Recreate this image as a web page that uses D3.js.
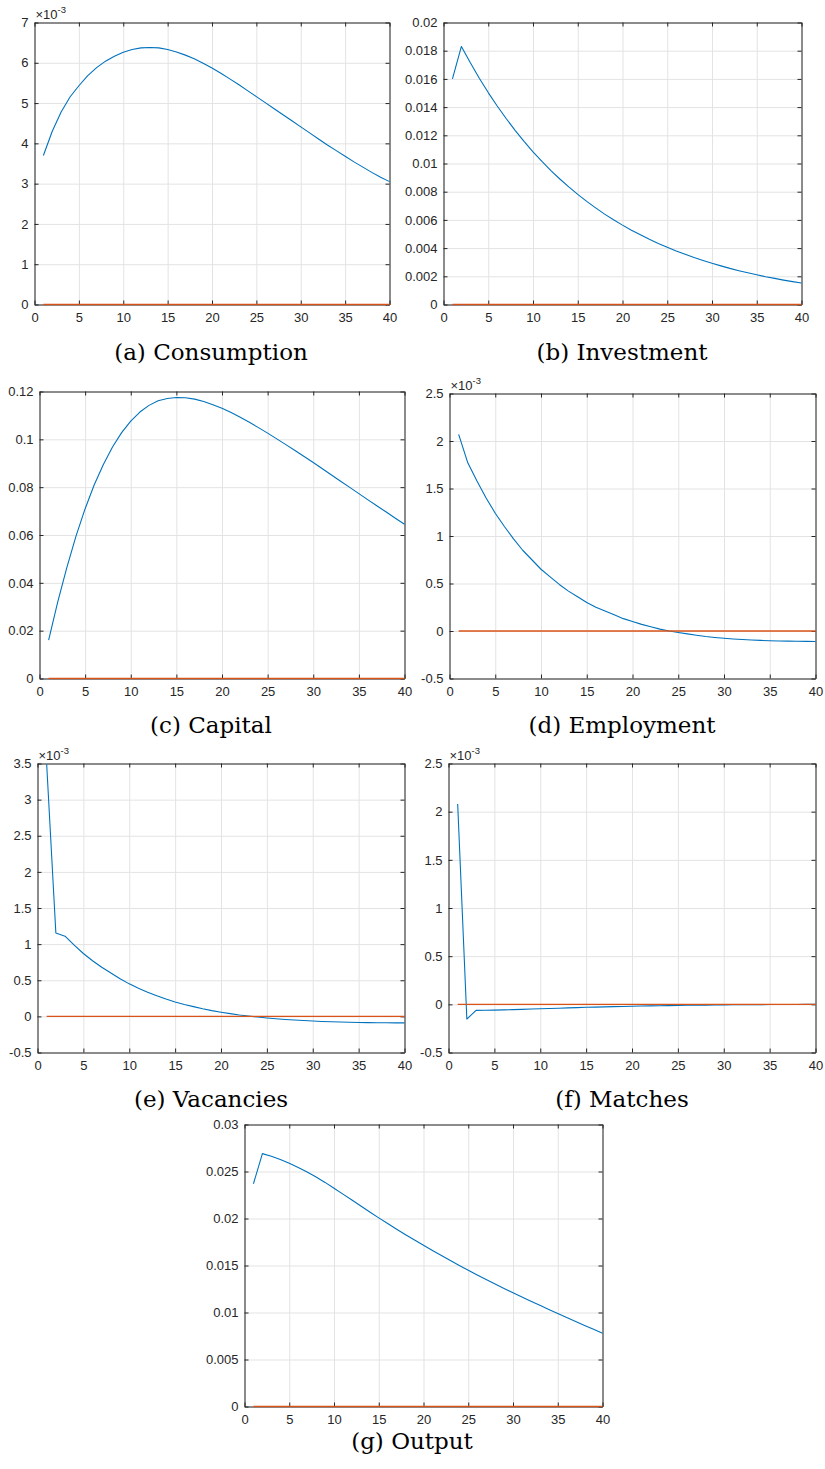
<!DOCTYPE html>
<html>
<head>
<meta charset="utf-8">
<script src="https://cdn.jsdelivr.net/npm/d3@7"></script>
<style>
  body { margin: 0; background: #fff; }
  svg { display: block; }
</style>
</head>
<body>
<svg id="fig" width="825" height="1469"></svg>
<script>
// Impulse responses, quarters 1..40
const periods = [1,2,3,4,5,6,7,8,9,10,11,12,13,14,15,16,17,18,19,20,
                 21,22,23,24,25,26,27,28,29,30,31,32,33,34,35,36,37,38,39,40];

// Steady-state reference (zero deviation)
const steadyState = [0,0,0,0,0,0,0,0,0,0,0,0,0,0,0,0,0,0,0,0,
                     0,0,0,0,0,0,0,0,0,0,0,0,0,0,0,0,0,0,0,0];

// Consumption, in units of 1e-3
const consumption = [3.70,4.30,4.78,5.15,5.43,5.68,5.88,6.04,6.16,6.26,
                     6.33,6.37,6.38,6.37,6.33,6.27,6.19,6.10,5.99,5.87,
                     5.74,5.60,5.46,5.31,5.16,5.01,4.86,4.71,4.56,4.41,
                     4.26,4.11,3.96,3.82,3.68,3.54,3.41,3.28,3.16,3.05];

const investment = [0.01600,0.01830,0.01714,0.01605,0.01503,0.01408,0.01319,0.01235,0.01157,0.01083,
                    0.01015,0.00950,0.00890,0.00834,0.00781,0.00731,0.00685,0.00641,0.00601,0.00563,
                    0.00527,0.00494,0.00462,0.00433,0.00406,0.00380,0.00356,0.00333,0.00312,0.00292,
                    0.00274,0.00256,0.00240,0.00225,0.00211,0.00197,0.00185,0.00173,0.00162,0.00152];

const capital = [0.0160,0.0320,0.0465,0.0595,0.0710,0.0810,0.0895,0.0968,0.1028,0.1076,
                 0.1114,0.1142,0.1161,0.1171,0.1175,0.1174,0.1168,0.1158,0.1145,0.1130,
                 0.1112,0.1092,0.1071,0.1049,0.1026,0.1002,0.0978,0.0953,0.0928,0.0903,
                 0.0877,0.0851,0.0825,0.0799,0.0773,0.0747,0.0721,0.0696,0.0670,0.0645];

// Employment, in units of 1e-3
const employment = [2.07,1.77,1.58,1.40,1.24,1.10,0.97,0.85,0.75,0.65,
                    0.57,0.49,0.42,0.36,0.30,0.25,0.21,0.17,0.13,0.10,
                    0.07,0.045,0.02,0.00,-0.015,-0.03,-0.045,-0.058,-0.068,-0.077,
                    -0.084,-0.090,-0.095,-0.099,-0.102,-0.105,-0.107,-0.108,-0.109,-0.110];

// Vacancies, in units of 1e-3
const vacancies = [3.49,1.155,1.11,0.985,0.87,0.77,0.68,0.60,0.52,0.45,
                   0.39,0.335,0.285,0.24,0.20,0.165,0.135,0.105,0.08,0.058,
                   0.038,0.02,0.005,-0.009,-0.022,-0.033,-0.043,-0.051,-0.058,-0.064,
                   -0.070,-0.074,-0.078,-0.081,-0.084,-0.086,-0.088,-0.089,-0.090,-0.090];

// Matches, in units of 1e-3
const matches = [2.08,-0.153,-0.063,-0.062,-0.060,-0.058,-0.055,-0.052,-0.049,-0.046,
                 -0.043,-0.040,-0.037,-0.034,-0.031,-0.029,-0.026,-0.024,-0.022,-0.020,
                 -0.018,-0.016,-0.014,-0.013,-0.011,-0.010,-0.009,-0.008,-0.007,-0.006,
                 -0.005,-0.004,-0.0035,-0.003,-0.0025,-0.002,-0.0015,-0.001,-0.0008,-0.0005];

const output = [0.02370,0.02690,0.02662,0.02628,0.02588,0.02543,0.02494,0.02441,0.02384,0.02322,
                0.02259,0.02196,0.02133,0.02070,0.02007,0.01946,0.01886,0.01828,0.01771,0.01715,
                0.01660,0.01606,0.01553,0.01501,0.01450,0.01400,0.01351,0.01303,0.01256,0.01210,
                0.01165,0.01120,0.01076,0.01032,0.00989,0.00946,0.00904,0.00862,0.00821,0.00780];

// Axis ticks
const xTicks = [0,5,10,15,20,25,30,35,40];
const consumptionTicks = [0,1,2,3,4,5,6,7];
const investmentTicks = [0,0.002,0.004,0.006,0.008,0.01,0.012,0.014,0.016,0.018,0.02];
const capitalTicks = [0,0.02,0.04,0.06,0.08,0.1,0.12];
const employmentTicks = [-0.5,0,0.5,1,1.5,2,2.5];
const vacanciesTicks = [-0.5,0,0.5,1,1.5,2,2.5,3,3.5];
const matchesTicks = [-0.5,0,0.5,1,1.5,2,2.5];
const outputTicks = [0,0.005,0.01,0.015,0.02,0.025,0.03];

const captions = ["(a) Consumption","(b) Investment","(c) Capital","(d) Employment",
                  "(e) Vacancies","(f) Matches","(g) Output"];

// Layout of each subfigure: axes box [left, top, right, bottom] and caption anchor
const panels = [
  { values: consumption, ticks: consumptionTicks, scaled: true,  box: [34.5, 22.5, 389.5, 304.5],  cap: [211, 360],  caption: captions[0] },
  { values: investment,  ticks: investmentTicks,  scaled: false, box: [443.5, 22.5, 801.5, 304.5], cap: [622, 360],  caption: captions[1] },
  { values: capital,     ticks: capitalTicks,     scaled: false, box: [39.5, 391.5, 404.5, 678.5], cap: [211, 733],  caption: captions[2] },
  { values: employment,  ticks: employmentTicks,  scaled: true,  box: [449.5, 393.5, 815.5, 678.5],cap: [622, 733],  caption: captions[3] },
  { values: vacancies,   ticks: vacanciesTicks,   scaled: true,  box: [37.5, 763.5, 404.5, 1052.5],cap: [211, 1107], caption: captions[4] },
  { values: matches,     ticks: matchesTicks,     scaled: true,  box: [448.5, 763.5, 815.5, 1052.5],cap: [622, 1107], caption: captions[5] },
  { values: output,      ticks: outputTicks,      scaled: false, box: [244.5, 1124.5, 602.5, 1406.5],cap: [412, 1449], caption: captions[6] }
];

const BLUE = "#0072BD", ORANGE = "#D95319", INK = "#262626", GRID = "#e3e3e3";
const TICK_FONT = "'Liberation Sans', Arial, Helvetica, sans-serif";
const fmt = v => String(+v.toFixed(6));

const svg = d3.select("#fig");
svg.append("rect").attr("width", 825).attr("height", 1469).attr("fill", "#fff");

panels.forEach((p, i) => {
  const [x0, y0, x1, y1] = p.box;
  const x = d3.scaleLinear().domain([0, 40]).range([x0, x1]);
  const y = d3.scaleLinear().domain(d3.extent(p.ticks)).range([y1, y0]);
  const g = svg.append("g");

  // grid lines
  g.append("g").attr("transform", `translate(0,${y1})`)
    .call(d3.axisBottom(x).tickValues(xTicks).tickSize(-(y1 - y0)).tickFormat(""))
    .call(s => s.select(".domain").remove())
    .call(s => s.selectAll("line").attr("stroke", GRID).attr("stroke-width", 1));
  g.append("g").attr("transform", `translate(${x0},0)`)
    .call(d3.axisLeft(y).tickValues(p.ticks).tickSize(-(x1 - x0)).tickFormat(""))
    .call(s => s.select(".domain").remove())
    .call(s => s.selectAll("line").attr("stroke", GRID).attr("stroke-width", 1));

  const style = s => {
    s.select(".domain").attr("stroke", INK).attr("stroke-width", 1);
    s.selectAll(".tick line").attr("stroke", INK).attr("stroke-width", 1);
    s.selectAll("text").attr("fill", INK).attr("font-family", TICK_FONT).attr("font-size", 13);
  };

  // box with inward ticks on all four sides
  g.append("g").attr("transform", `translate(0,${y1})`)
    .call(d3.axisBottom(x).tickValues(xTicks).tickSizeInner(-4).tickSizeOuter(0).tickPadding(8).tickFormat(fmt))
    .call(style);
  g.append("g").attr("transform", `translate(0,${y0})`)
    .call(d3.axisTop(x).tickValues(xTicks).tickSizeInner(-4).tickSizeOuter(0).tickFormat(""))
    .call(style);
  g.append("g").attr("transform", `translate(${x0},0)`)
    .call(d3.axisLeft(y).tickValues(p.ticks).tickSizeInner(-4).tickSizeOuter(0).tickPadding(6).tickFormat(fmt))
    .call(style);
  g.append("g").attr("transform", `translate(${x1},0)`)
    .call(d3.axisRight(y).tickValues(p.ticks).tickSizeInner(-4).tickSizeOuter(0).tickFormat(""))
    .call(style);

  // exponent multiplier above the y axis
  if (p.scaled) {
    const t = g.append("text").attr("x", x0 + 1).attr("y", y0 - 4)
      .attr("font-family", TICK_FONT).attr("font-size", 13).attr("fill", INK);
    t.append("tspan").text("\u00d710");
    t.append("tspan").attr("font-size", 9.5).attr("dy", -6).text("-3");
  }

  // series
  const clipId = "clip" + i;
  svg.append("clipPath").attr("id", clipId).append("rect")
    .attr("x", x0 - 1).attr("y", y0 - 1).attr("width", x1 - x0 + 2).attr("height", y1 - y0 + 2);
  const line = d3.line().x((d, k) => x(periods[k])).y(d => y(d));
  const plot = g.append("g").attr("clip-path", `url(#${clipId})`);
  plot.append("path").datum(p.values).attr("d", line)
    .attr("fill", "none").attr("stroke", BLUE).attr("stroke-width", 1.1).attr("stroke-linejoin", "round");
  plot.append("path").datum(steadyState).attr("d", line)
    .attr("fill", "none").attr("stroke", ORANGE).attr("stroke-width", 1.3);

  // caption
  g.append("text").attr("x", p.cap[0]).attr("y", p.cap[1]).attr("text-anchor", "middle")
    .attr("font-family", "'DejaVu Serif', serif").attr("font-size", 23).attr("fill", "#000")
    .text(p.caption);
});
</script>
</body>
</html>
